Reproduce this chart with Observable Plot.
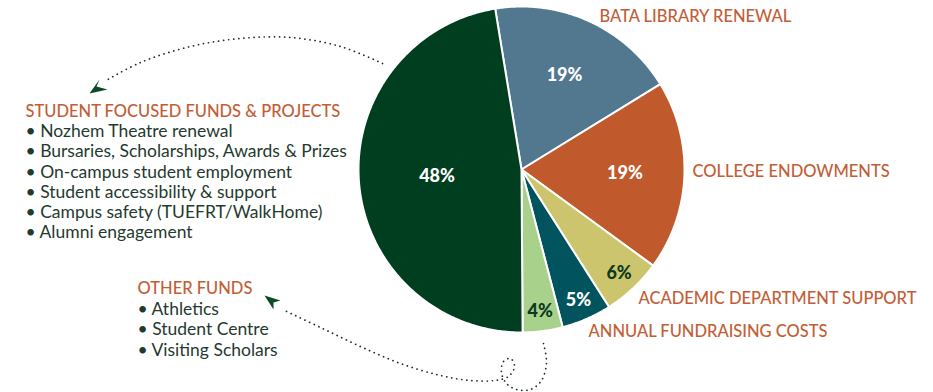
<!DOCTYPE html>
<html><head><meta charset="utf-8">
<script src="https://cdn.jsdelivr.net/npm/d3@7"></script>
<script src="https://cdn.jsdelivr.net/npm/@observablehq/plot@0.6"></script>
<style>html,body{margin:0;padding:0;background:#fff;} #chart{width:933px;height:392px;overflow:hidden;}</style>
</head><body><div id="chart"></div>
<script>
// ---- data ----
const categories = ["Bata Library Renewal", "College Endowments", "Academic Department Support", "Annual Fundraising Costs", "Other Funds", "Student Focused Funds & Projects"];
const values = [19, 19, 6, 5, 4, 48];
const sliceColors = ["#52788f", "#c05a2d", "#cdc56d", "#01545d", "#a8d18c", "#003e20"];
const labelColors = ["#ffffff", "#ffffff", "#0c3a1e", "#ffffff", "#0c3a1e", "#ffffff"];
const studentItems = ["Nozhem Theatre renewal", "Bursaries, Scholarships, Awards & Prizes", "On-campus student employment", "Student accessibility & support", "Campus safety (TUEFRT/WalkHome)", "Alumni engagement"];
const otherItems = ["Athletics", "Student Centre", "Visiting Scholars"];

// ---- layout ----
const W = 933, H = 392, CX = 521, CY = 169, R = 163;
const ax = px => (px - CX) / R;
const ay = py => (CY - py) / R;
const headColor = "#c25e36", itemColor = "#1f3a2f", dotColor = "#1c2b24", arrowColor = "#0b4a26";

const pie = d3.pie().sort(null).startAngle(-9.3 * Math.PI / 180).endAngle(2 * Math.PI - 9.3 * Math.PI / 180);
const arcs = pie(values);

const marks = [];
arcs.forEach((a, i) => {
  const pts = [{x: 0, y: 0}];
  const n = Math.max(4, Math.ceil((a.endAngle - a.startAngle) / (Math.PI / 360)));
  for (let k = 0; k <= n; k++) {
    const t = a.startAngle + (a.endAngle - a.startAngle) * k / n;
    pts.push({x: Math.sin(t), y: Math.cos(t)});
  }
  marks.push(Plot.line(pts, {x: "x", y: "y", curve: "linear-closed", fill: sliceColors[i], stroke: "#ffffff", strokeWidth: 2, strokeLinejoin: "round"}));
});

const pctLabels = arcs.map((a, i) => {
  const m = (a.startAngle + a.endAngle) / 2;
  const v = values[i];
  const rf = v > 30 ? 0.52 : v > 10 ? 0.635 : 0.875;
  return {x: rf * Math.sin(m), y: rf * Math.cos(m), text: v + "%", color: labelColors[i]};
});
marks.push(Plot.text(pctLabels, {x: "x", y: "y", text: "text", fill: "color", fontSize: 18, fontWeight: 900, textAnchor: "middle"}));

// outer category labels
const outer = [
  {x: ax(599), y: ay(16), text: categories[0].toUpperCase()},
  {x: ax(692), y: ay(171), text: categories[1].toUpperCase()},
  {x: ax(638), y: ay(298), text: categories[2].toUpperCase()},
  {x: ax(588), y: ay(331), text: categories[3].toUpperCase()},
  {x: ax(25), y: ay(111), text: categories[5].toUpperCase()},
  {x: ax(137), y: ay(288), text: categories[4].toUpperCase()}
];
marks.push(Plot.text(outer, {x: "x", y: "y", text: "text", fill: headColor, fontSize: 16.5, fontWeight: 500, textAnchor: "start"}));

marks.push(Plot.text(studentItems, {x: ax(25), y: (d, i) => ay(131 + 20.2 * i), text: d => "\u2022 " + d, fill: itemColor, fontSize: 17.5, textAnchor: "start"}));
marks.push(Plot.text(otherItems, {x: ax(137), y: (d, i) => ay(308.5 + 20.5 * i), text: d => "\u2022 " + d, fill: itemColor, fontSize: 17.5, textAnchor: "start"}));

// dotted connectors
const topPath = [[382,63],[340,46],[290,37],[240,38],[190,46],[140,62],[104,81]].map(([x, y]) => ({x: ax(x), y: ay(y)}));
const botPath = [[543,343],[546,362],[541,380],[530,389],[516,389],[506,383],[501,372],[503,361],[510,358],[514,366],[508,376],[494,380],[470,380],[440,375],[400,363],[360,346],[320,327],[282,309]].map(([x, y]) => ({x: ax(x), y: ay(y)}));
for (const p of [topPath, botPath]) {
  marks.push(Plot.line(p, {x: "x", y: "y", curve: "catmull-rom", stroke: dotColor, strokeWidth: 1.7, strokeDasharray: "0.1,5", strokeLinecap: "round"}));
}
const heads = [
  [[89,93],[99,79],[96,86],[107,89]],
  [[264,295],[280,300],[273,302],[273,309]]
];
for (const h of heads) {
  marks.push(Plot.line(h.map(([x, y]) => ({x: ax(x), y: ay(y)})), {x: "x", y: "y", curve: "linear-closed", fill: arrowColor, stroke: "none"}));
}

const chart = Plot.plot({
  width: W, height: H,
  margin: 0,
  x: {domain: [-CX / R, (W - CX) / R], range: [0, W], axis: null},
  y: {domain: [(CY - H) / R, CY / R], range: [H, 0], axis: null},
  style: {fontFamily: "Lato, 'Noto Sans', sans-serif", background: "#ffffff", overflow: "visible"},
  marks
});
document.getElementById("chart").appendChild(chart);
</script>
</body></html>
